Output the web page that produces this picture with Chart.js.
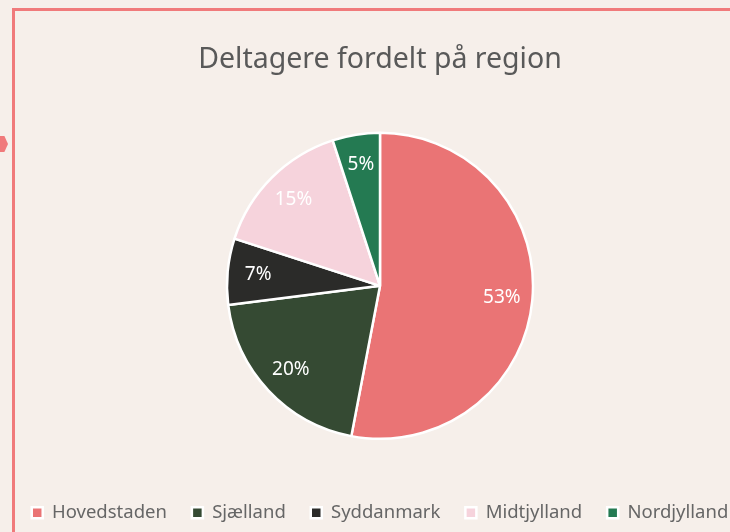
<!DOCTYPE html>
<html>
<head>
<meta charset="utf-8">
<script src="https://cdn.jsdelivr.net/npm/chart.js@4/dist/chart.umd.min.js"></script>
<style>
  html, body { margin: 0; padding: 0; background: #f6efea; overflow: hidden; width: 730px; height: 532px; }
  #frame { position: absolute; left: 12px; top: 8px; width: 800px; height: 600px; border: 3px solid #f07a7b; box-sizing: border-box; }
  #arrow { position: absolute; left: 0; top: 136px; width: 8px; height: 16px; background: #f07a7b; clip-path: polygon(0 0, 55% 0, 100% 50%, 55% 100%, 0 100%); }
  #wrap { position: absolute; left: -20px; top: 0; width: 800px; height: 532px; }
</style>
</head>
<body>
<div id="frame"></div>
<div id="arrow"></div>
<div id="wrap"><canvas id="c" width="800" height="532"></canvas></div>
<script>
const title = 'Deltagere fordelt på region';
const regions = ['Hovedstaden', 'Sjælland', 'Syddanmark', 'Midtjylland', 'Nordjylland'];
const shares = [53, 20, 7, 15, 5];
const sliceColors = ['#ea7475', '#354a33', '#2b2b29', '#f6d3dc', '#247a52'];

const FONT = "'Noto Sans', 'Open Sans', sans-serif";

const labelPlugin = {
  id: 'sliceLabels',
  afterDatasetsDraw(chart) {
    const ctx = chart.ctx;
    const meta = chart.getDatasetMeta(0);
    ctx.save();
    ctx.font = '19px ' + FONT;
    ctx.fillStyle = '#ffffff';
    ctx.textAlign = 'center';
    ctx.textBaseline = 'middle';
    meta.data.forEach((arc, i) => {
      const p = arc.getProps(['x', 'y', 'startAngle', 'endAngle', 'outerRadius'], true);
      const mid = (p.startAngle + p.endAngle) / 2;
      const r = p.outerRadius * 0.8;
      ctx.fillText(shares[i] + '%', p.x + Math.cos(mid) * r, p.y + Math.sin(mid) * r);
    });
    ctx.restore();
  }
};

new Chart(document.getElementById('c'), {
  type: 'pie',
  data: {
    labels: regions,
    datasets: [{
      data: shares,
      backgroundColor: sliceColors,
      borderColor: '#ffffff',
      borderWidth: 2.5,
      radius: 153
    }]
  },
  options: {
    responsive: false,
    animation: false,
    layout: { padding: { top: 22, bottom: 0, left: 0, right: 0 } },
    plugins: {
      title: {
        display: true,
        text: title,
        color: '#595959',
        font: { family: FONT, size: 28.5, weight: 'normal' },
        padding: { top: 21, bottom: 16 }
      },
      legend: {
        position: 'bottom',
        labels: {
          color: '#666666',
          font: { family: FONT, size: 18.5 },
          boxWidth: 11,
          boxHeight: 11,
          padding: 25
        }
      },
      tooltip: { enabled: false }
    }
  },
  plugins: [labelPlugin]
});
</script>
</body>
</html>
